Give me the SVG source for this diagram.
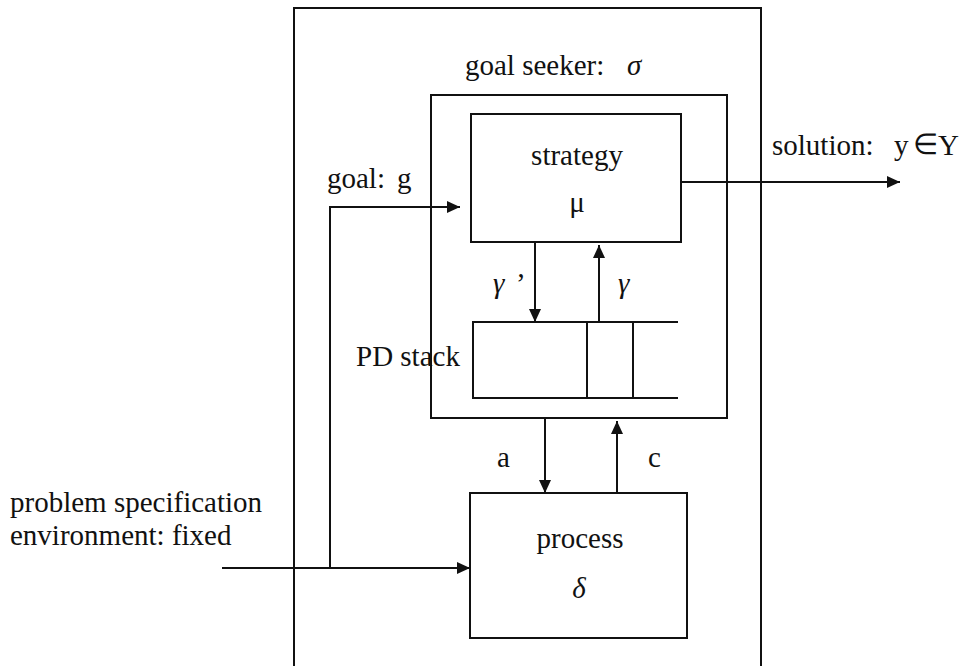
<svg xmlns="http://www.w3.org/2000/svg" width="965" height="666" viewBox="0 0 965 666">
  <style>
    .box { fill: none; stroke: #111; stroke-width: 2; }
    .ln { fill: none; stroke: #111; stroke-width: 2; }
    .t { font-family: "Liberation Serif", "Times New Roman", serif; font-size: 29px; fill: #111; }
    .g { font-style: italic; }
    .mid { text-anchor: middle; }
  </style>
  <defs>
    <marker id="arrow" markerUnits="userSpaceOnUse" markerWidth="14" markerHeight="12" refX="13" refY="6" orient="auto">
      <path d="M0,0 L13,6 L0,12 z" fill="#111"/>
    </marker>
  </defs>
  <rect width="965" height="666" fill="#fff"/>

  <!-- system boundary -->
  <g id="system">
    <path class="box" d="M294,680 V8 H761 V680"/>
  </g>

  <!-- goal seeker -->
  <g id="goal-seeker">
    <rect class="box" x="431" y="95" width="296" height="323"/>
    <text class="t" x="465" y="75">goal seeker:</text>
    <text class="t g" x="627" y="75">σ</text>
  </g>

  <!-- strategy -->
  <g id="strategy">
    <rect class="box" x="471" y="114" width="210" height="128"/>
    <text class="t mid" x="577" y="165">strategy</text>
    <text class="t mid" x="577" y="212">μ</text>
  </g>

  <!-- push-down stack -->
  <g id="pd-stack">
    <path class="ln" d="M678,322 H473 V398 H678 M587,322 V398 M633,322 V398"/>
    <text class="t" x="356" y="366">PD stack</text>
  </g>

  <!-- process -->
  <g id="process">
    <rect class="box" x="470" y="493" width="217" height="145"/>
    <text class="t mid" x="580" y="548">process</text>
    <text class="t g mid" x="579" y="598">δ</text>
  </g>

  <!-- connectors -->
  <g id="connectors">
    <path class="ln" d="M222,568 H470" marker-end="url(#arrow)"/>
    <path class="ln" d="M330,568 V207 H460" marker-end="url(#arrow)"/>
    <path class="ln" d="M681,182 H900" marker-end="url(#arrow)"/>
    <path class="ln" d="M535,242 V322" marker-end="url(#arrow)"/>
    <path class="ln" d="M599,322 V245" marker-end="url(#arrow)"/>
    <path class="ln" d="M545,418 V493" marker-end="url(#arrow)"/>
    <path class="ln" d="M617,493 V421" marker-end="url(#arrow)"/>
  </g>

  <!-- labels -->
  <g id="labels">
    <text class="t" x="10" y="512">problem specification</text>
    <text class="t" x="10" y="545">environment: fixed</text>
    <text class="t" x="327" y="188">goal:</text>
    <text class="t" x="397" y="188">g</text>
    <text class="t" x="772" y="155">solution:</text>
    <text class="t" x="894" y="155">y</text>
    <text class="t" x="913" y="154" font-size="21">∈</text>
    <text class="t" x="938" y="155">Y</text>
    <text class="t g" x="493" y="293">γ</text>
    <text class="t" x="516" y="293">’</text>
    <text class="t g" x="618" y="293">γ</text>
    <text class="t" x="497" y="467">a</text>
    <text class="t" x="648" y="467">c</text>
  </g>
</svg>
